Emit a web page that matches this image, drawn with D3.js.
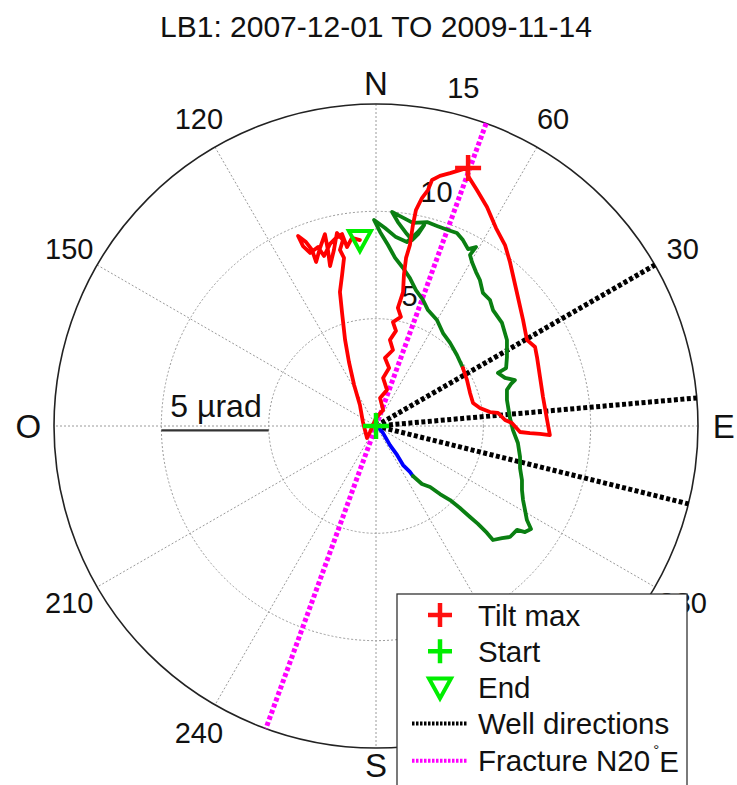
<!DOCTYPE html>
<html>
<head>
<meta charset="utf-8">
<script src="https://cdn.jsdelivr.net/npm/d3@7"></script>
<style>
  html, body { margin: 0; padding: 0; background: #fff; }
  svg { display: block; }
  text { font-family: "Liberation Sans", Arial, Helvetica, sans-serif; fill: #111; }
</style>
</head>
<body>
<svg id="chart" width="737" height="785"></svg>
<script>
// ---------------- DATA ----------------
const title = "LB1: 2007-12-01 TO 2009-11-14";
const ringValues = [5, 10, 15];               // µrad
const maxRadius = 15;
const spokeAngles = [0, 30, 60, 90, 120, 150]; // math angles (deg CCW from East)
const angleLabels = [30, 60, 120, 150, 210, 240, 330];
const compassLabels = [["E", 0], ["N", 90], ["O", 180], ["S", 270]];
const wellAzimuths = [60, 85, 104];           // deg from North, clockwise
const fractureAzimuth = 20;                   // N20°E
const scaleBarValue = 5;                      // µrad

// tilt trajectories: [east, north] in µrad
const blueTrace = [[0.05,0],[0.33,-0.33],[0.65,-0.89],[0.98,-1.35],[1.26,-1.82],[1.58,-2.14],[1.72,-2.33]];
const greenTrace = [[1.72,-2.33],[2.14,-2.70],[2.52,-2.84],[2.98,-3.17],[3.45,-3.45],[3.91,-3.82],[4.38,-4.24],
  [4.75,-4.56],[5.17,-4.98],[5.45,-5.31],[5.87,-5.22],[6.24,-5.17],[6.57,-4.84],[6.94,-4.94],[7.22,-4.80],
  [7.03,-4.38],[6.94,-3.91],[6.85,-3.45],[6.80,-2.98],[6.80,-2.52],[6.71,-1.96],[6.71,-1.44],[6.61,-0.79],
  [6.38,-0.19],[6.24,0.37],[6.10,1.21],[6.10,1.68],[6.29,1.96],[6.47,2.14],[6.01,2.24],[5.68,2.47],[6.06,2.70],
  [6.10,3.21],[6.10,4.01],[5.87,4.80],[5.45,5.40],[5.31,5.87],[4.98,6.20],[4.84,6.80],[4.66,7.17],[4.47,7.64],
  [4.38,7.97],[4.66,8.34],[4.29,8.24],[4.05,8.66],[3.77,8.99],[3.35,9.13],[2.84,9.32],[2.38,9.50],[1.72,9.46],
  [1.12,9.78],[0.75,9.97],[1.02,9.50],[1.44,8.94],[1.68,8.66],[1.96,8.94],[2.24,9.36],[1.91,8.99],[1.44,8.57],
  [0.93,8.80],[0.42,9.22],[-0.09,9.60],[0.19,9.04],[0.56,8.43],[0.89,7.83],[1.26,7.36],[1.58,6.89],[1.86,6.33],
  [2.19,5.87],[2.42,5.40],[2.84,4.94],[3.12,4.33],[3.45,3.87],[3.77,3.31],[4.05,2.70]];
const redTrace = [[4.05,2.70],[4.24,2.14],[4.38,1.54],[4.52,1.07],[4.84,0.84],[5.31,0.65],[5.68,0.61],[6.01,0.28],
  [6.33,0.14],[6.71,-0.28],[7.17,-0.33],[7.64,-0.37],[8.10,-0.42],[7.97,0.28],[7.78,1.35],[7.64,2.28],[7.50,3.21],
  [7.41,3.68],[7.03,4.01],[6.85,4.94],[6.61,6.01],[6.43,6.80],[6.24,7.64],[6.01,8.43],[5.59,9.22],[5.17,10.20],
  [4.70,10.99],[4.29,11.65],[4.24,12.02],[3.91,11.92],[3.45,11.78],[2.98,11.65],[2.61,11.46],[2.42,10.99],
  [2.14,10.62],[1.86,10.06],[1.72,9.36],[1.58,8.43],[1.40,7.83],[1.30,7.03],[1.26,6.24],[1.02,5.50],[1.16,5.08],
  [0.79,4.84],[0.93,4.43],[0.65,4.01],[0.79,3.54],[0.42,3.17],[0.61,2.70],[0.33,2.24],[0.51,1.68],[0.19,1.30],
  [0.33,0.75],[0,0.37],[-0.28,-0.28],[-0.42,-0.56],[-0.61,0.19],[-0.75,0.98],[-1.02,1.91],[-1.26,2.98],
  [-1.44,4.01],[-1.58,5.26],[-1.68,6.24],[-1.58,7.03],[-1.49,7.83],[-1.68,8.20],[-1.54,8.66],[-1.82,8.99],
  [-1.96,8.20],[-2.14,7.45],[-2.24,8.20],[-2.38,8.94],[-2.61,8.29],[-2.79,7.64],[-2.98,8.20],[-3.26,8.57],
  [-3.63,8.85],[-3.40,8.38],[-3.07,8.06],[-2.70,8.34],[-2.42,7.92],[-2.14,8.48],[-1.86,8.76],[-1.58,8.94],
  [-1.35,8.34],[-1.12,8.76],[-0.75,8.66]];
const tiltMax = [4.29, 12.02];
const startPoint = [0, 0];
const endPoint = [-0.75, 8.66];

const legendItems = ["Tilt max", "Start", "End", "Well directions", "Fracture N20"];

// ---------------- LAYOUT ----------------
const cx = 376, cy = 426, R = 322;
const svg = d3.select("#chart");
const x = d3.scaleLinear().domain([-maxRadius, maxRadius]).range([cx - R, cx + R]);
const y = d3.scaleLinear().domain([-maxRadius, maxRadius]).range([cy + R, cy - R]);
const rScale = d3.scaleLinear().domain([0, maxRadius]).range([0, R]);
const rad = d => d * Math.PI / 180;
const polarMath = (r, deg) => [r * Math.cos(rad(deg)), r * Math.sin(rad(deg))];
const polarAz = (r, az) => [r * Math.sin(rad(az)), r * Math.cos(rad(az))];

// title
svg.append("text").attr("x", 376).attr("y", 37).attr("text-anchor", "middle")
  .style("font-size", "30px").text(title);

// grid rings (dotted)
svg.selectAll("circle.ring").data(ringValues.filter(v => v < maxRadius)).enter()
  .append("circle").attr("cx", x(0)).attr("cy", y(0)).attr("r", d => rScale(d))
  .attr("fill", "none").attr("stroke", "#9a9a9a").attr("stroke-width", 1).attr("stroke-dasharray", "2,2");

// spokes
svg.selectAll("line.spoke").data(spokeAngles).enter().append("line")
  .attr("x1", d => x(polarMath(maxRadius, d)[0])).attr("y1", d => y(polarMath(maxRadius, d)[1]))
  .attr("x2", d => x(polarMath(maxRadius, d + 180)[0])).attr("y2", d => y(polarMath(maxRadius, d + 180)[1]))
  .attr("stroke", "#9a9a9a").attr("stroke-width", 1).attr("stroke-dasharray", "2,2");

// outer circle
svg.append("circle").attr("cx", x(0)).attr("cy", y(0)).attr("r", rScale(maxRadius))
  .attr("fill", "none").attr("stroke", "#222").attr("stroke-width", 1.6);

// ring labels
svg.selectAll("text.rlab").data(ringValues).enter().append("text")
  .attr("x", d => x(polarMath(d + 1.25, 75.5)[0])).attr("y", d => y(polarMath(d + 1.25, 75.5)[1]))
  .attr("text-anchor", "middle").attr("dominant-baseline", "central")
  .style("font-size", "29px").text(d => d);

// angle labels
svg.selectAll("text.alab").data(angleLabels).enter().append("text")
  .attr("x", d => x(polarMath(maxRadius * 1.1, d)[0])).attr("y", d => y(polarMath(maxRadius * 1.1, d)[1]))
  .attr("text-anchor", "middle").attr("dominant-baseline", "central")
  .style("font-size", "29px").text(d => d);

// compass letters
const compassR = { E: 1.08, O: 1.08, N: 1.065, S: 1.055 };
svg.selectAll("text.clab").data(compassLabels).enter().append("text")
  .attr("x", d => x(polarMath(maxRadius * compassR[d[0]], d[1])[0]))
  .attr("y", d => y(polarMath(maxRadius * compassR[d[0]], d[1])[1]))
  .attr("text-anchor", "middle").attr("dominant-baseline", "central")
  .style("font-size", "33px").text(d => d[0]);

// scale bar
const sbX0 = x(-10), sbY = y(-0.2);
svg.append("line").attr("x1", sbX0).attr("x2", sbX0 + rScale(scaleBarValue))
  .attr("y1", sbY).attr("y2", sbY).attr("stroke", "#333").attr("stroke-width", 2.2);
svg.append("text").attr("x", sbX0 + rScale(scaleBarValue) / 2 + 1).attr("y", sbY - 13)
  .attr("text-anchor", "middle").style("font-size", "32px").text(scaleBarValue + " µrad");

// well directions
svg.selectAll("line.well").data(wellAzimuths).enter().append("line")
  .attr("x1", x(0)).attr("y1", y(0))
  .attr("x2", d => x(polarAz(maxRadius, d)[0])).attr("y2", d => y(polarAz(maxRadius, d)[1]))
  .attr("stroke", "#000").attr("stroke-width", 5).attr("stroke-dasharray", "4,2.5");

// fracture
svg.append("line")
  .attr("x1", x(polarAz(maxRadius, fractureAzimuth)[0])).attr("y1", y(polarAz(maxRadius, fractureAzimuth)[1]))
  .attr("x2", x(polarAz(maxRadius, fractureAzimuth + 180)[0])).attr("y2", y(polarAz(maxRadius, fractureAzimuth + 180)[1]))
  .attr("stroke", "#ff00ff").attr("stroke-width", 5).attr("stroke-dasharray", "4,2.5");

// traces
const line = d3.line().x(d => x(d[0])).y(d => y(d[1]));
[[blueTrace, "#0000ff"], [greenTrace, "#0a7f12"], [redTrace, "#ff0000"]].forEach(([tr, col]) => {
  svg.append("path").attr("d", line(tr)).attr("fill", "none").attr("stroke", col)
    .attr("stroke-width", 3.8).attr("stroke-linejoin", "round").attr("stroke-linecap", "round");
});

// markers
function plus(g, px, py, col, s) {
  g.append("path").attr("d", `M${px - s},${py}H${px + s}M${px},${py - s}V${py + s}`)
    .attr("stroke", col).attr("stroke-width", 4.5).attr("fill", "none");
}
function tri(g, px, py, col) {
  g.append("path").attr("d", `M${px - 11},${py - 9}L${px + 11},${py - 9}L${px},${py + 11}Z`)
    .attr("stroke", col).attr("stroke-width", 4).attr("fill", "none").attr("stroke-linejoin", "miter");
}
plus(svg, x(tiltMax[0]), y(tiltMax[1]), "#ff1010", 13);
plus(svg, x(startPoint[0]), y(startPoint[1]), "#00ee00", 13);
tri(svg, x(endPoint[0]), y(endPoint[1]), "#00ee00");

// legend
const lg = svg.append("g");
lg.append("rect").attr("x", 397).attr("y", 594).attr("width", 290).attr("height", 220)
  .attr("fill", "#fff").attr("stroke", "#333").attr("stroke-width", 1.3);
const rowY = i => 615 + i * 36.2;
plus(lg, 440, rowY(0), "#ff1010", 12);
plus(lg, 440, rowY(1), "#00ee00", 12);
tri(lg, 440, rowY(2), "#00ee00");
lg.append("line").attr("x1", 412).attr("x2", 468).attr("y1", rowY(3)).attr("y2", rowY(3))
  .attr("stroke", "#000").attr("stroke-width", 4).attr("stroke-dasharray", "2.5,1.5");
lg.append("line").attr("x1", 412).attr("x2", 468).attr("y1", rowY(4) + 1).attr("y2", rowY(4) + 1)
  .attr("stroke", "#ff00ff").attr("stroke-width", 4).attr("stroke-dasharray", "2.5,1.5");
legendItems.forEach((t, i) => {
  const tx = lg.append("text").attr("x", 478).attr("y", rowY(i) + (i === 4 ? 1 : 0))
    .attr("dominant-baseline", "central").style("font-size", "29.5px").text(t);
  if (i === 4) {
    tx.append("tspan").attr("dx", 3).attr("dy", -12).style("font-size", "15px").text("°");
    tx.append("tspan").attr("dy", 12).text("E");
  }
});
</script>
</body>
</html>
